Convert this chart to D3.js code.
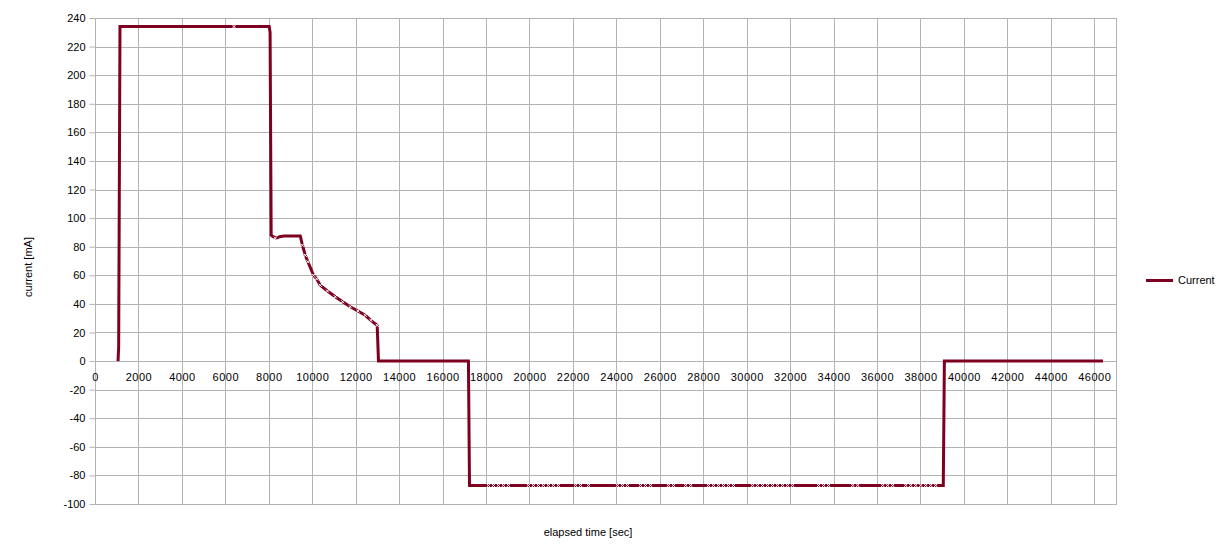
<!DOCTYPE html>
<html>
<head>
<meta charset="utf-8">
<script src="https://cdn.jsdelivr.net/npm/d3@7"></script>
<style>
  html, body { margin: 0; padding: 0; background: #ffffff; }
  svg { display: block; }
  text { font-family: "Liberation Sans", Arial, sans-serif; fill: #000; }
</style>
</head>
<body>
<div id="chart"></div>
<script>
// ---- data ----
const seriesName = "Current";
const timeSec = [1060, 1090, 1150, 8020, 8060, 8110, 8200, 8350, 8500, 8700, 9450, 9550, 9680, 9800, 10060, 10200, 10370, 10700, 11060, 11400, 11750, 12100, 12440, 12700, 12990, 13050, 17190, 17240, 39050, 39100, 46400];
const currentMA = [0, 10, 234, 234, 230, 88, 87, 86, 87, 87.5, 87.5, 81, 74, 69.5, 60, 57.5, 53, 49, 45, 41.5, 38, 35, 32, 28.5, 25, 0, 0, -87, -87, 0, 0];
const markerTimes = [6400, 8300, 9550, 9680, 9800, 10060, 10200, 10370, 10700, 11060, 11400, 11750, 12100, 12440, 12700, 12990,
  18110, 18340, 18570, 18800, 19030, 19950, 20180, 20410, 20640, 20870, 21100, 21330, 22120, 22350, 22720, 24050, 24280, 24510,
  25110, 25340, 25570, 26400, 26630, 27190, 27420, 28240, 28470, 28700, 28930, 29160, 29390, 30270, 30500, 30730, 30960, 31190,
  31420, 31650, 31880, 32110, 33310, 33540, 33770, 34880, 35110, 36260, 36490, 36720, 37320, 37550, 37780, 38010, 38240, 38470, 38700];
const markerValues = [234, 86, 81, 74, 69.5, 60, 57.5, 53, 49, 45, 41.5, 38, 35, 32, 28.5, 25,
  -87, -87, -87, -87, -87, -87, -87, -87, -87, -87, -87, -87, -87, -87, -87, -87, -87, -87,
  -87, -87, -87, -87, -87, -87, -87, -87, -87, -87, -87, -87, -87, -87, -87, -87, -87, -87,
  -87, -87, -87, -87, -87, -87, -87, -87, -87, -87, -87, -87, -87, -87, -87, -87, -87, -87, -87];
const xTickValues = [0, 2000, 4000, 6000, 8000, 10000, 12000, 14000, 16000, 18000, 20000, 22000, 24000, 26000, 28000, 30000, 32000, 34000, 36000, 38000, 40000, 42000, 44000, 46000];
const yTickValues = [-100, -80, -60, -40, -20, 0, 20, 40, 60, 80, 100, 120, 140, 160, 180, 200, 220, 240];
const xDomain = [0, 47000];
const yDomain = [-100, 240];
const xTitle = "elapsed time [sec]";
const yTitle = "current [mA]";

// ---- layout ----
const W = 1230, H = 558;
const L = 95, R = 1116, T = 18, B = 504;
const lineColor = "#7e0021";
const gridColor = "#b3b3b3";
const fmt = d => String(d); // plain hyphen-minus as in the reference

const svg = d3.select("#chart").append("svg").attr("width", W).attr("height", H);

const x = d3.scaleLinear().domain(xDomain).range([L, R]);
const y = d3.scaleLinear().domain(yDomain).range([B, T]);

// grid
const g = svg.append("g");
g.selectAll("line.vg").data(xTickValues).enter().append("line")
  .attr("x1", d => Math.round(x(d)) + 0.5).attr("x2", d => Math.round(x(d)) + 0.5)
  .attr("y1", T).attr("y2", B)
  .attr("stroke", gridColor).attr("stroke-width", 1);
g.selectAll("line.hg").data(yTickValues).enter().append("line")
  .attr("x1", L).attr("x2", R)
  .attr("y1", d => Math.round(y(d)) + 0.5).attr("y2", d => Math.round(y(d)) + 0.5)
  .attr("stroke", gridColor).attr("stroke-width", 1);
// frame
svg.append("rect").attr("x", L + 0.5).attr("y", T + 0.5)
  .attr("width", R - L).attr("height", B - T)
  .attr("fill", "none").attr("stroke", gridColor).attr("stroke-width", 1);

// y axis
const yAxis = d3.axisLeft(y).tickValues(yTickValues).tickSize(6).tickPadding(4).tickFormat(fmt);
const ya = svg.append("g").attr("transform", `translate(${L + 0.5},0)`).call(yAxis);
ya.select(".domain").remove();
ya.selectAll(".tick line").attr("stroke", gridColor);
ya.selectAll(".tick text").attr("font-size", 11).attr("font-family", "Liberation Sans, Arial, sans-serif").attr("fill", "#000");

// x axis at y = 0
const xAxis = d3.axisBottom(x).tickValues(xTickValues).tickSize(0).tickPadding(12).tickFormat(fmt);
const xa = svg.append("g").attr("transform", `translate(0,${Math.round(y(0)) + 0.5})`).call(xAxis);
xa.select(".domain").remove();
xa.selectAll(".tick text").attr("font-size", 11).attr("letter-spacing", "0.5px")
  .attr("font-family", "Liberation Sans, Arial, sans-serif").attr("fill", "#000");

// series line
const pts = timeSec.map((t, i) => [t, currentMA[i]]);
const line = d3.line().x(d => x(d[0])).y(d => y(d[1]));
svg.append("path").datum(pts).attr("d", line)
  .attr("fill", "none").attr("stroke", lineColor).attr("stroke-width", 3)
  .attr("stroke-linejoin", "miter");

// small white point markers
const mk = markerTimes.map((t, i) => [t, markerValues[i]]);
svg.append("g").selectAll("path").data(mk).enter().append("path")
  .attr("d", d => {
    const cx = x(d[0]), cy = y(d[1]);
    return `M${cx - 1.5},${cy - 1.5}L${cx + 1.5},${cy + 1.5}M${cx - 1.5},${cy + 1.5}L${cx + 1.5},${cy - 1.5}`;
  })
  .attr("stroke", "#ffffff").attr("stroke-width", 1).attr("fill", "none");

// titles
svg.append("text").attr("x", 588).attr("y", 536).attr("text-anchor", "middle")
  .attr("font-size", 11).text(xTitle);
svg.append("text").attr("transform", "translate(32,267) rotate(-90)").attr("text-anchor", "middle")
  .attr("font-size", 11).text(yTitle);

// legend
const lg = svg.append("g").attr("transform", "translate(1146,280)");
lg.append("line").attr("x1", 0).attr("x2", 27).attr("y1", 0.5).attr("y2", 0.5)
  .attr("stroke", lineColor).attr("stroke-width", 3);
lg.append("text").attr("x", 32).attr("y", 4).attr("font-size", 11).text(seriesName);
</script>
</body>
</html>
